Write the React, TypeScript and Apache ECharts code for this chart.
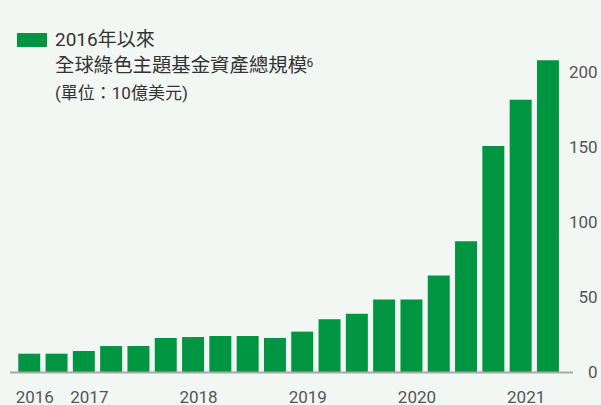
import React, { useEffect, useRef } from "react";
import * as echarts from "echarts";

const quarters = [
  "2016 Q3", "2016 Q4",
  "2017 Q1", "2017 Q2", "2017 Q3", "2017 Q4",
  "2018 Q1", "2018 Q2", "2018 Q3", "2018 Q4",
  "2019 Q1", "2019 Q2", "2019 Q3", "2019 Q4",
  "2020 Q1", "2020 Q2", "2020 Q3", "2020 Q4",
  "2021 Q1", "2021 Q2",
];
const tickLabels = [
  "2016", "",
  "2017", "", "", "",
  "2018", "", "", "",
  "2019", "", "", "",
  "2020", "", "", "",
  "2021", "",
];
const assets = [
  12.2, 12.2, 14, 17.3, 17.3, 22.7, 23.3, 24, 24, 22.7,
  26.9, 35.1, 38.9, 48.4, 48.4, 64.4, 87.1, 150.7, 181.5, 207.8,
];
const yTicks = [0, 50, 100, 150, 200];

const titleLine1 = "2016年以來";
const titleLine2 = "全球綠色主題基金資產總規模";
const titleSup = "6";
const titleLine3 = "(單位：10億美元)";

const GREEN = "#009540";
const FONT = "Roboto, 'Noto Sans CJK TC', sans-serif";

export default function App() {
  const ref = useRef<HTMLDivElement>(null);
  useEffect(() => {
    if (!ref.current) return;
    const chart = echarts.init(ref.current, null, { renderer: "svg" });
    chart.setOption({
      animation: false,
      backgroundColor: "#f3f7f4",
      grid: { left: 15.6, right: 39.4, top: 57, bottom: 33 },
      xAxis: {
        type: "category",
        data: quarters,
        axisLine: { show: false },
        axisTick: { show: false },
        axisLabel: {
          interval: 0,
          formatter: (_v: string, i: number) => tickLabels[i],
          color: "#555",
          fontFamily: FONT,
          fontSize: 17,
          margin: 16,
          padding: [0, 0, 0, 11],
        },
      },
      yAxis: {
        type: "value",
        position: "right",
        min: 0,
        max: 210,
        interval: 50,
        splitLine: { show: false },
        axisLine: { show: false },
        axisTick: { show: false },
        axisLabel: {
          showMaxLabel: false,
          align: "right",
          margin: 36,
          color: "#555",
          fontFamily: FONT,
          fontSize: 17,
          formatter: (v: number) => (yTicks.includes(v) ? String(v) : ""),
        },
      },
      series: [
        {
          type: "bar",
          data: assets,
          barCategoryGap: "19.5%",
          itemStyle: { color: GREEN },
        },
      ],
      graphic: [
        {
          type: "line",
          shape: { x1: 10, y1: 372.5, x2: 573, y2: 372.5 },
          style: { stroke: "#a9a9a9", lineWidth: 2 },
          z: 10,
        },
        {
          type: "rect",
          shape: { x: 17, y: 33, width: 30, height: 14 },
          style: { fill: GREEN },
        },
        {
          type: "text",
          x: 55,
          y: 39.5,
          style: {
            text: titleLine1,
            fill: "#333",
            font: `19px ${FONT}`,
            verticalAlign: "middle",
          },
        },
        {
          type: "text",
          x: 55,
          y: 65.5,
          style: {
            text: titleLine2,
            fill: "#333",
            font: `19.4px ${FONT}`,
            verticalAlign: "middle",
          },
        },
        {
          type: "text",
          x: 306.5,
          y: 62.5,
          style: {
            text: titleSup,
            fill: "#333",
            font: `12px ${FONT}`,
            verticalAlign: "middle",
          },
        },
        {
          type: "text",
          x: 55,
          y: 93,
          style: {
            text: titleLine3,
            fill: "#333",
            font: `17px ${FONT}`,
            verticalAlign: "middle",
          },
        },
      ],
    });
    return () => chart.dispose();
  }, []);
  return (
    <div
      ref={ref}
      style={{ position: "fixed", left: 0, top: 0, width: 601, height: 405 }}
    />
  );
}
